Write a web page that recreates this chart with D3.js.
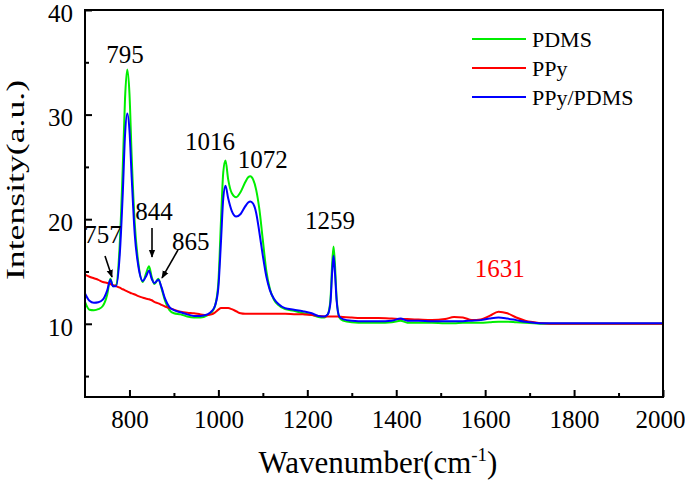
<!DOCTYPE html>
<html><head><meta charset="utf-8">
<script src="https://cdn.jsdelivr.net/npm/d3@7"></script>
<style>body{margin:0;background:#fff}svg{display:block}text{font-family:"Liberation Serif","Times New Roman",Times,serif}</style>
</head><body><svg id="c" width="685" height="481"></svg>
<script>
const wavenumbers = [700,710,720,730,740,750,757,763,770,778,785,790,795,800,805,812,820,830,838,844,850,856,865,872,880,890,900,915,930,945,960,975,985,993,1000,1006,1011,1016,1022,1030,1040,1050,1060,1067,1072,1078,1085,1092,1100,1108,1116,1125,1135,1150,1170,1190,1210,1225,1238,1246,1252,1256,1259,1262,1266,1272,1280,1300,1330,1360,1390,1410,1425,1450,1480,1510,1530,1550,1570,1590,1610,1630,1650,1670,1690,1710,1730,1760,1800,1850,1900,1950,2000];
const pdms = [12.1,11.35,11.3,11.4,11.7,12.8,14.3,13.6,13.7,17.5,25.0,31.5,34.3,32.0,26.0,19.5,15.8,14.0,14.9,15.5,14.5,13.8,14.3,13.4,12.2,11.3,11.0,10.9,10.7,10.6,10.6,10.8,11.1,11.8,14.0,20.0,24.5,25.6,23.8,22.5,22.1,22.6,23.5,24.0,24.1,23.8,22.8,21.0,18.0,15.0,13.3,12.3,11.8,11.4,11.25,11.0,10.85,10.65,10.6,10.9,12.3,15.8,17.4,15.8,12.4,10.6,10.3,10.15,10.1,10.1,10.15,10.3,10.1,10.1,10.1,10.05,10.05,10.1,10.1,10.1,10.15,10.2,10.2,10.15,10.1,10.05,10.0,10.0,10.0,10.0,10.0,10.0,10.0];
const ppy = [14.7,14.5,14.35,14.2,14.0,13.9,13.8,13.7,13.6,13.45,13.3,13.2,13.1,13.0,12.9,12.8,12.65,12.5,12.4,12.35,12.25,12.1,11.95,11.8,11.65,11.5,11.35,11.15,11.05,11.0,10.9,10.85,10.9,11.1,11.35,11.5,11.5,11.5,11.5,11.4,11.2,11.0,10.95,10.95,10.95,10.95,10.95,10.95,10.95,10.95,10.95,10.95,10.95,10.95,10.92,10.9,10.85,10.75,10.7,10.7,10.7,10.7,10.7,10.7,10.7,10.68,10.65,10.6,10.55,10.55,10.5,10.45,10.45,10.4,10.35,10.45,10.65,10.6,10.35,10.4,10.75,11.15,11.0,10.6,10.3,10.15,10.05,10.0,10.0,10.0,10.0,10.0,10.0];
const ppyPdms = [12.9,12.2,12.0,12.05,12.3,13.2,14.2,13.6,13.6,16.5,22.5,28.0,30.1,28.5,24.0,18.5,15.5,14.1,14.6,15.1,14.3,13.9,14.2,13.5,12.4,11.6,11.3,11.1,10.9,10.75,10.75,10.9,11.2,11.8,13.5,18.0,22.0,23.2,22.0,20.8,20.25,20.5,21.2,21.6,21.7,21.5,20.6,18.8,16.5,14.5,13.2,12.4,11.9,11.5,11.35,11.2,11.0,10.75,10.7,10.9,12.0,15.0,16.5,15.0,12.2,10.7,10.45,10.3,10.25,10.25,10.3,10.5,10.3,10.3,10.25,10.25,10.25,10.25,10.3,10.35,10.5,10.6,10.5,10.35,10.2,10.1,10.05,10.05,10.05,10.05,10.05,10.05,10.05];
const seriesNames = ["PDMS","PPy","PPy/PDMS"];
const seriesColors = ["#00ee00","#ff0000","#0000ff"];
const xMajorTicks = [800,1000,1200,1400,1600,1800,2000];
const xMinorTicks = [900,1100,1300,1500,1700,1900];
const yMajorTicks = [10,20,30,40];
const yMinorTicks = [5,15,25,35];
const peakLabels = ["757","795","844","865","1016","1072","1259","1631"];
const peakLabelX = [740.5,790,855,938,981,1100,1251,1633];
const peakLabelY = [17.72,34.93,19.92,17.06,26.6,24.9,19.06,14.47];
const peakLabelColors = ["#000","#000","#000","#000","#000","#000","#000","#ff0000"];
const arrowFrom = [[745,16.48],[850.7,19.16],[909.2,17.06]];
const arrowTo = [[760.7,14.47],[850.7,16.39],[873.2,14.38]];

const svg = d3.select("#c");
const L=85,R=663,T=10,B=397;
const x = d3.scaleLinear().domain([700,2000]).range([L,R]);
const y = d3.scaleLinear().domain([3,40]).range([B,T]);
const serif = '"Liberation Serif","Times New Roman",Times,serif';

svg.append("defs").append("marker").attr("id","ah").attr("viewBox","0 0 10 10")
  .attr("refX",9).attr("refY",5).attr("markerWidth",5).attr("markerHeight",5)
  .attr("orient","auto").attr("markerUnits","strokeWidth")
  .append("path").attr("d","M0,1L10,5L0,9Z").attr("fill","#000");

const line = d3.line().x((d,i)=>x(wavenumbers[i])).y(d=>y(d)).curve(d3.curveMonotoneX);
const plot = svg.append("g");
[pdms,ppy,ppyPdms].forEach((s,k)=>{
  plot.append("path").attr("d",line(s)).attr("fill","none")
    .attr("stroke",seriesColors[k]).attr("stroke-width",2).attr("stroke-linejoin","round");
});

// axes
const fs = 25;
const gx = svg.append("g").attr("transform",`translate(0,${B})`)
  .call(d3.axisBottom(x).tickValues(xMajorTicks).tickSizeInner(-7).tickSizeOuter(0).tickPadding(13).tickFormat(d3.format("d")));
const gxm = svg.append("g").attr("transform",`translate(0,${B})`)
  .call(d3.axisBottom(x).tickValues(xMinorTicks).tickSizeInner(-4).tickSizeOuter(0).tickFormat(""));
const gy = svg.append("g").attr("transform",`translate(${L},0)`)
  .call(d3.axisLeft(y).tickValues(yMajorTicks).tickSizeInner(-7).tickSizeOuter(0).tickPadding(12));
const gym = svg.append("g").attr("transform",`translate(${L},0)`)
  .call(d3.axisLeft(y).tickValues(yMinorTicks).tickSizeInner(-4).tickSizeOuter(0).tickFormat(""));
[gx,gxm,gy,gym].forEach(g=>{
  g.attr("font-family",serif);
  g.select(".domain").remove();
  g.selectAll("line").attr("stroke","#000").attr("stroke-width",2);
  g.selectAll("text").style("font-family",serif).style("font-size",fs+"px").style("fill","#000");
});
gy.selectAll("text").attr("dy","0.45em");
gx.selectAll("text").filter(d=>d===2000).attr("text-anchor","end").attr("dx",22);

svg.append("rect").attr("x",L).attr("y",T).attr("width",R-L).attr("height",B-T)
  .attr("fill","none").attr("stroke","#000").attr("stroke-width",2);

// annotations
peakLabels.forEach((t,i)=>{
  svg.append("text").attr("x",x(peakLabelX[i])).attr("y",y(peakLabelY[i]))
    .attr("text-anchor","middle").style("font-size","25px").style("fill",peakLabelColors[i]).text(t);
});
arrowFrom.forEach((a,i)=>{
  svg.append("line").attr("x1",x(a[0])).attr("y1",y(a[1]))
    .attr("x2",x(arrowTo[i][0])).attr("y2",y(arrowTo[i][1]))
    .attr("stroke","#000").attr("stroke-width",1.6).attr("marker-end","url(#ah)");
});

// legend
const lg = svg.append("g");
seriesNames.forEach((n,i)=>{
  const yy = 39 + i*29;
  lg.append("line").attr("x1",472).attr("x2",526).attr("y1",yy).attr("y2",yy)
    .attr("stroke",seriesColors[i]).attr("stroke-width",2);
  lg.append("text").attr("x",532).attr("y",yy+8).style("font-size","22px").style("fill","#000").text(n);
});

// axis titles
svg.append("text").attr("transform","translate(24,180) rotate(-90)").attr("text-anchor","middle")
  .style("font-size","26px").style("fill","#000").attr("textLength",200).attr("lengthAdjust","spacingAndGlyphs").text("Intensity(a.u.)");
const xt = svg.append("text").attr("x",378).attr("y",473).attr("text-anchor","middle").style("font-size","31px").style("fill","#000");
xt.append("tspan").text("Wavenumber(cm");
xt.append("tspan").attr("dy",-12).style("font-size","19px").text("-1");
xt.append("tspan").attr("dy",12).text(")");
</script></body></html>
